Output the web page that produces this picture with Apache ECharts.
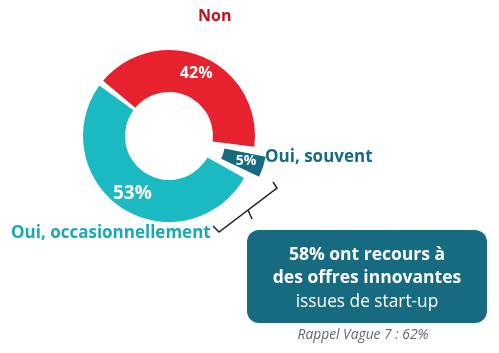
<!DOCTYPE html>
<html>
<head>
<meta charset="utf-8">
<script src="https://cdn.jsdelivr.net/npm/echarts@6/dist/echarts.min.js"></script>
<style>
  html, body { margin: 0; padding: 0; background: #fff; }
  #main { width: 499px; height: 353px; }
</style>
</head>
<body>
<div id="main"></div>
<script>
// données
var categories = ['Non', 'Oui, souvent', 'Oui, occasionnellement'];
var values = [42, 5, 53];
var colors = ['#e8212f', '#176b80', '#1bb9c1'];
var labelColors = ['#c20f1e', '#176b80', '#1aa9b1'];
var valueFontSizes = [16, 14, 19];
var boxLines = ['58% ont recours à', 'des offres innovantes', 'issues de start-up'];
var rappel = 'Rappel Vague 7 : 62%';

var FONT = '"Open Sans", "Noto Sans", sans-serif';

var myChart = echarts.init(document.getElementById('main'));

myChart.setOption({
    backgroundColor: '#fff',
    animation: false,
    series: [{
        type: 'pie',
        center: [169, 136],
        radius: [44, 86],
        startAngle: 142,
        padAngle: 4,
        selectedMode: 'single',
        selectedOffset: 13,
        data: categories.map(function (name, i) {
            return {
                name: name,
                value: values[i],
                selected: i === 1,
                itemStyle: { color: colors[i] },
                label: { fontSize: valueFontSizes[i] }
            };
        }),
        label: {
            position: 'inside',
            formatter: '{c}%',
            color: '#fff',
            fontWeight: 'bold',
            fontFamily: FONT
        },
        labelLine: { show: false },
        emphasis: { disabled: true }
    }],
    graphic: [
        // étiquettes des catégories
        { type: 'text', left: 198, top: 8,
          style: { text: categories[0], fill: labelColors[0], font: 'bold 16px ' + FONT } },
        { type: 'text', left: 265, top: 149,
          style: { text: categories[1], fill: labelColors[1], font: 'bold 17px ' + FONT } },
        { type: 'text', left: 11, top: 225,
          style: { text: categories[2], fill: labelColors[2], font: 'bold 17px ' + FONT } },
        // accolade
        { type: 'polyline',
          shape: { points: [[273, 182], [277, 188], [219, 232], [213, 226]] },
          style: { stroke: '#222', lineWidth: 1.5, fill: null } },
        { type: 'line',
          shape: { x1: 248, y1: 210, x2: 252, y2: 219 },
          style: { stroke: '#222', lineWidth: 1.5 } },
        // encadré
        { type: 'rect',
          shape: { x: 247, y: 230, width: 240, height: 93, r: 12 },
          style: { fill: '#176b80' } },
        { type: 'text', x: 367, y: 255,
          style: { text: boxLines[0], fill: '#fff', font: 'bold 17.5px ' + FONT,
                   textAlign: 'center', textVerticalAlign: 'middle' } },
        { type: 'text', x: 367, y: 278,
          style: { text: boxLines[1], fill: '#fff', font: 'bold 17.5px ' + FONT,
                   textAlign: 'center', textVerticalAlign: 'middle' } },
        { type: 'text', x: 367, y: 302,
          style: { text: boxLines[2], fill: '#fff', font: '17.3px ' + FONT,
                   textAlign: 'center', textVerticalAlign: 'middle' } },
        { type: 'text', x: 363, y: 335,
          style: { text: rappel, fill: '#666', font: 'italic 13.8px ' + FONT,
                   textAlign: 'center', textVerticalAlign: 'middle' } }
    ]
});
</script>
</body>
</html>
